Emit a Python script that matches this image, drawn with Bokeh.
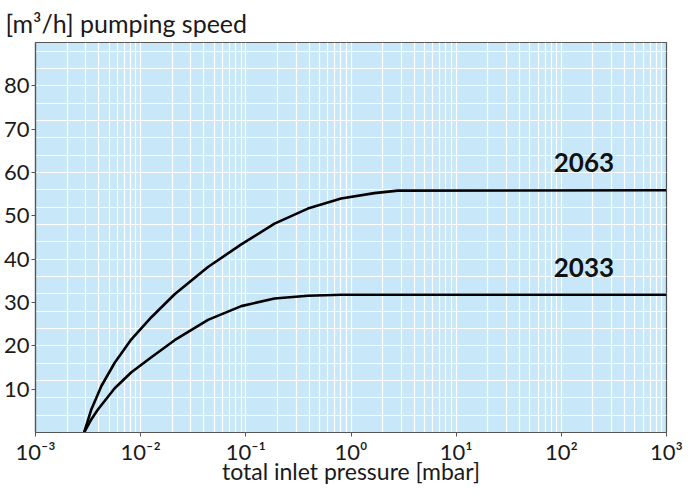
from bokeh.plotting import figure
from bokeh.models import FixedTicker, CustomJSTickFormatter, Range1d
from bokeh.embed import file_html
from bokeh.resources import INLINE
from bokeh.core.properties import value

# ---- data ----
pressure_2063 = [0.002901, 0.003402, 0.004233, 0.005663, 0.008161, 0.01264, 0.02103,
                 0.04366, 0.09044, 0.1874, 0.3888, 0.8054, 1.668, 2.782, 1000]
speed_2063 = [0, 5.37, 10.73, 16.1, 21.5, 26.6, 31.9,
              38.2, 43.4, 48.2, 51.67, 53.98, 55.24, 55.82, 55.89]

pressure_2033 = [0.002901, 0.003402, 0.003939, 0.005663, 0.008161, 0.01264, 0.02103,
                 0.04366, 0.09044, 0.1874, 0.3888, 0.8054, 1000]
speed_2033 = [0, 3.06, 5.37, 10.2, 13.89, 17.35, 21.3,
              26.0, 29.16, 30.94, 31.56, 31.79, 31.79]

series_names = ["2063", "2033"]
label_pressure = [164, 164]
label_speed = [62.3, 38.1]

x_major_ticks = [1e-3, 1e-2, 1e-1, 1, 10, 100, 1000]
y_major_ticks = [10, 20, 30, 40, 50, 60, 70, 80]
y_grid_lines = [0, 4, 8, 12, 16, 20, 24, 28, 32, 36, 40, 44, 48, 52, 56, 60, 64, 68, 72, 76, 80, 84, 88]
x_minor_grid = [m * t for t in x_major_ticks[:-1] for m in range(2, 10)]

FONT = "Lato"
TXT = "#1a1a1a"
AX = "#555555"

p = figure(width=683, height=487, x_axis_type="log",
           x_range=Range1d(1e-3, 1e3), y_range=Range1d(0, 90),
           output_backend="svg", toolbar_location=None,
           background_fill_color="#c8e8f9", border_fill_color="white",
           min_border_right=17, min_border_left=10, min_border_bottom=0,
           min_border_top=10)

p.title.text = "[m³/h] pumping speed"
p.title.text_font = FONT
p.title.text_font_size = "25px"
p.title.text_font_style = "normal"
p.title.text_color = TXT
p.title.align = "left"
p.title.offset = -30

p.outline_line_color = AX
p.outline_line_width = 1.2

# x axis
p.xaxis.ticker = FixedTicker(ticks=x_major_ticks, minor_ticks=x_minor_grid)
p.xaxis.formatter = CustomJSTickFormatter(code="""
const sup = {'-':'\u207b','0':'\u2070','1':'\u00b9','2':'\u00b2','3':'\u00b3','4':'\u2074',
             '5':'\u2075','6':'\u2076','7':'\u2077','8':'\u2078','9':'\u2079'};
const e = Math.round(Math.log10(tick));
return '10' + String(e).split('').map(c => sup[c]).join('');
""")
p.xaxis.axis_label = "total inlet pressure [mbar]"
p.xaxis.axis_label_text_font = FONT
p.xaxis.axis_label_text_font_size = "23px"
p.xaxis.axis_label_text_font_style = "normal"
p.xaxis.axis_label_text_color = TXT
p.xaxis.axis_label_standoff = -11
p.xaxis.minor_tick_line_color = None

# y axis
p.yaxis.ticker = FixedTicker(ticks=y_major_ticks)

for ax in (p.xaxis, p.yaxis):
    ax.axis_line_color = AX
    ax.axis_line_width = 1.2
    ax.major_tick_line_color = AX
    ax.major_tick_out = 4
    ax.major_tick_in = 0
    ax.minor_tick_line_color = None
    ax.major_label_text_font = FONT
    ax.major_label_text_color = TXT
p.xaxis.major_label_text_font_size = "22px"
p.xaxis.major_label_standoff = 1
p.yaxis.major_label_text_font_size = "22px"
p.yaxis.major_label_standoff = 2

# grids
p.xgrid.ticker = FixedTicker(ticks=x_major_ticks, minor_ticks=x_minor_grid)
p.xgrid.grid_line_color = "white"
p.xgrid.grid_line_width = 1.2
p.xgrid.minor_grid_line_color = "white"
p.xgrid.minor_grid_line_width = 1.2
p.ygrid.ticker = FixedTicker(ticks=y_grid_lines)
p.ygrid.grid_line_color = "white"
p.ygrid.grid_line_width = 1.2

# curves
p.line(pressure_2063, speed_2063, line_color="black", line_width=2.6, line_join="round")
p.line(pressure_2033, speed_2033, line_color="black", line_width=2.6, line_join="round")

p.text(x=label_pressure, y=label_speed, text=series_names,
       text_font=value(FONT), text_font_style="bold", text_font_size="26px",
       text_align="center", text_baseline="middle", text_color="#111111")

open("out.html", "w").write(file_html(p, INLINE))
